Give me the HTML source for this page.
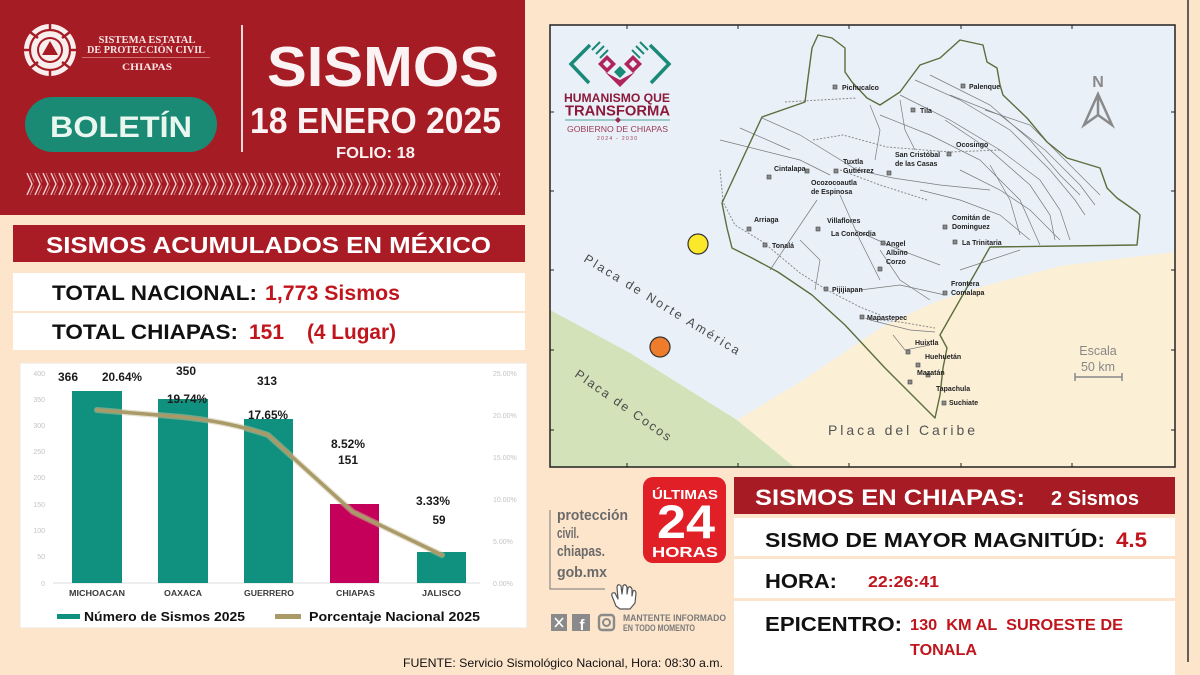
<!DOCTYPE html>
<html><head><meta charset="utf-8"><style>
html,body{margin:0;padding:0;background:#fde5cc;}
svg{display:block;}
text{font-family:"Liberation Sans",Arial,sans-serif;}
.serif{font-family:"Liberation Serif","Times New Roman",serif;}
.city{font-size:7px;font-weight:bold;fill:#222;}
.mk{fill:#8a8a8a;stroke:#444;stroke-width:0.6;}
.fault{fill:none;stroke:#7a7a7a;stroke-width:0.7;}
.road{fill:none;stroke:#8a8a8a;stroke-width:1;stroke-dasharray:2 1.6;}
</style></head><body>
<svg width="1200" height="675" viewBox="0 0 1200 675" xmlns="http://www.w3.org/2000/svg">
<defs>
<pattern id="zz" x="26" y="173" width="8" height="22" patternUnits="userSpaceOnUse">
<path d="M1,0 L6,11 L1,22" fill="none" stroke="#f3d0d0" stroke-width="1.4"/>
<path d="M4,0 L9,11 L4,22" fill="none" stroke="#f3d0d0" stroke-width="0.8" opacity="0.6"/>
</pattern>
<clipPath id="mapclip"><rect x="550" y="25" width="625" height="442"/></clipPath>
</defs>
<rect width="1200" height="675" fill="#fde5cc"/>

<!-- HEADER -->
<rect x="0" y="0" width="525" height="215" fill="#a61c24"/>
<!-- logo -->
<circle cx="50" cy="50" r="26" fill="#f8eeee"/>
<circle cx="50" cy="50" r="20" fill="none" stroke="#a61c24" stroke-width="2.2"/>
<circle cx="50" cy="50" r="13" fill="#a61c24"/>
<circle cx="50" cy="50" r="11" fill="#f8eeee"/>
<polygon points="50,41 58,55 42,55" fill="#a61c24"/>
<path d="M30,32 L38,38 M70,32 L62,38 M30,68 L38,62 M70,68 L62,62 M24,50 L30,50 M76,50 L70,50 M50,24 L50,30 M50,76 L50,70" stroke="#a61c24" stroke-width="2.5"/>
<text class="serif" x="147" y="43" font-size="10" font-weight="bold" fill="#f6e4e4" text-anchor="middle" textLength="97" lengthAdjust="spacingAndGlyphs">SISTEMA ESTATAL</text>
<text class="serif" x="146" y="53" font-size="10" font-weight="bold" fill="#f6e4e4" text-anchor="middle" textLength="118" lengthAdjust="spacingAndGlyphs">DE PROTECCIÓN CIVIL</text>
<line x1="82" y1="57.5" x2="210" y2="57.5" stroke="#e08a8a" stroke-width="0.8"/>
<text class="serif" x="147" y="70" font-size="9" font-weight="bold" fill="#f6e4e4" text-anchor="middle" textLength="50" lengthAdjust="spacingAndGlyphs">CHIAPAS</text>
<rect x="25" y="97" width="192" height="55" rx="27.5" fill="#1b8a74"/>
<text x="121" y="137" font-size="30" font-weight="bold" fill="#eaf7f0" text-anchor="middle" textLength="142" lengthAdjust="spacingAndGlyphs">BOLETÍN</text>
<line x1="242" y1="25" x2="242" y2="152" stroke="#f2dada" stroke-width="2"/>
<text x="267" y="86" font-size="57" font-weight="bold" fill="#fbf3f3" textLength="232" lengthAdjust="spacingAndGlyphs">SISMOS</text>
<text x="250" y="133" font-size="36" font-weight="bold" fill="#fbf3f3" textLength="251" lengthAdjust="spacingAndGlyphs">18 ENERO 2025</text>
<text x="336" y="158" font-size="16" font-weight="bold" fill="#fbf3f3" textLength="79" lengthAdjust="spacingAndGlyphs">FOLIO: 18</text>
<rect x="26" y="173" width="474" height="22" fill="url(#zz)"/>

<!-- SISMOS ACUMULADOS -->
<rect x="13" y="225" width="512" height="37" fill="#a91c26"/>
<text x="46" y="253" font-size="23" font-weight="bold" fill="#fff" textLength="445" lengthAdjust="spacingAndGlyphs">SISMOS ACUMULADOS EN MÉXICO</text>
<rect x="13" y="273" width="512" height="38" fill="#fff"/>
<rect x="13" y="313" width="512" height="37" fill="#fff"/>
<text x="52" y="300" font-size="21" font-weight="bold" fill="#111" textLength="205" lengthAdjust="spacingAndGlyphs">TOTAL NACIONAL:</text>
<text x="265" y="300" font-size="21" font-weight="bold" fill="#c0151d" textLength="135" lengthAdjust="spacingAndGlyphs">1,773 Sismos</text>
<text x="52" y="339" font-size="21" font-weight="bold" fill="#111" textLength="186" lengthAdjust="spacingAndGlyphs">TOTAL CHIAPAS:</text>
<text x="249" y="339" font-size="21" font-weight="bold" fill="#c0151d" textLength="35" lengthAdjust="spacingAndGlyphs">151</text>
<text x="307" y="339" font-size="21" font-weight="bold" fill="#c0151d" textLength="89" lengthAdjust="spacingAndGlyphs">(4 Lugar)</text>

<!-- CHART -->
<rect x="20" y="363" width="507" height="265" fill="#fff" stroke="#f2e6da" stroke-width="1"/>
<g font-size="7" fill="#c4c4c4" text-anchor="end">
<text x="45" y="376">400</text><text x="45" y="402">350</text><text x="45" y="428">300</text><text x="45" y="454">250</text><text x="45" y="480">200</text><text x="45" y="507">150</text><text x="45" y="533">100</text><text x="45" y="559">50</text><text x="45" y="586">0</text>
</g>
<g font-size="7" fill="#c4c4c4">
<text x="493" y="376">25.00%</text><text x="493" y="418">20.00%</text><text x="493" y="460">15.00%</text><text x="493" y="502">10.00%</text><text x="493" y="544">5.00%</text><text x="493" y="586">0.00%</text>
</g>
<line x1="53" y1="583" x2="480" y2="583" stroke="#dcdcdc" stroke-width="1"/>
<rect x="72" y="391" width="50" height="192" fill="#10917f"/>
<rect x="158" y="399" width="50" height="184" fill="#10917f"/>
<rect x="244" y="419" width="49" height="164" fill="#10917f"/>
<rect x="330" y="504" width="49" height="79" fill="#c4005a"/>
<rect x="417" y="552" width="49" height="31" fill="#10917f"/>
<path d="M97,410 L182,417 Q230,422 268,435 L353,512 L442,555" fill="none" stroke="#c9bf9c" stroke-width="6" stroke-linejoin="round" stroke-linecap="round" opacity="0.5"/>
<path d="M97,410 L182,417 Q230,422 268,435 L353,512 L442,555" fill="none" stroke="#a99a68" stroke-width="3.5" stroke-linejoin="round" stroke-linecap="round"/>
<g font-size="11.5" font-weight="bold" fill="#1a1a1a" text-anchor="middle">
<text x="68" y="381" textLength="20" lengthAdjust="spacingAndGlyphs">366</text>
<text x="122" y="381" textLength="40" lengthAdjust="spacingAndGlyphs">20.64%</text>
<text x="186" y="375" textLength="20" lengthAdjust="spacingAndGlyphs">350</text>
<text x="187" y="403" textLength="40" lengthAdjust="spacingAndGlyphs">19.74%</text>
<text x="267" y="385" textLength="20" lengthAdjust="spacingAndGlyphs">313</text>
<text x="268" y="419" textLength="40" lengthAdjust="spacingAndGlyphs">17.65%</text>
<text x="348" y="448" textLength="34" lengthAdjust="spacingAndGlyphs">8.52%</text>
<text x="348" y="464" textLength="20" lengthAdjust="spacingAndGlyphs">151</text>
<text x="433" y="505" textLength="34" lengthAdjust="spacingAndGlyphs">3.33%</text>
<text x="439" y="524" textLength="13" lengthAdjust="spacingAndGlyphs">59</text>
</g>
<g font-size="8" font-weight="bold" fill="#3a3a3a">
<text x="69" y="596" textLength="56" lengthAdjust="spacingAndGlyphs">MICHOACAN</text>
<text x="164" y="596" textLength="38" lengthAdjust="spacingAndGlyphs">OAXACA</text>
<text x="244" y="596" textLength="50" lengthAdjust="spacingAndGlyphs">GUERRERO</text>
<text x="336" y="596" textLength="39" lengthAdjust="spacingAndGlyphs">CHIAPAS</text>
<text x="422" y="596" textLength="39" lengthAdjust="spacingAndGlyphs">JALISCO</text>
</g>
<rect x="57" y="614" width="23" height="5" fill="#10917f"/>
<text x="84" y="621" font-size="12.5" font-weight="bold" fill="#111" textLength="161" lengthAdjust="spacingAndGlyphs">Número de Sismos 2025</text>
<rect x="275" y="614" width="26" height="5" fill="#a99a68"/>
<text x="309" y="621" font-size="12.5" font-weight="bold" fill="#111" textLength="171" lengthAdjust="spacingAndGlyphs">Porcentaje Nacional 2025</text>

<!-- MAP -->
<rect x="550" y="25" width="625" height="442" fill="#e9f0f8"/>
<g clip-path="url(#mapclip)">
<polygon points="550,310 630,353 737,420 798,470 550,470" fill="#d3e2b9"/>
<polygon points="737,420 800,382 885,325 940,300 988,285 1060,266 1175,252 1175,470 798,470" fill="#fbefd6"/>
</g>
<!-- faults & roads -->
<g class="fault">
<path d="M915,80 L960,100 L1010,130 L1050,170 L1075,200 L1085,215"/>
<path d="M930,75 L990,105 L1030,140 L1060,175 L1080,195"/>
<path d="M900,95 L950,120 L1000,150 L1040,180 L1060,210 L1070,240"/>
<path d="M945,120 L990,150 L1030,185 L1050,215 L1055,240"/>
<path d="M880,115 L930,135 L980,160 L1020,200 L1040,245"/>
<path d="M960,170 L1000,190 L1030,210 L1060,240"/>
<path d="M950,95 L1000,115 L1045,150 L1080,185 L1095,205"/>
<path d="M985,110 L1030,125 L1065,160 L1100,195"/>
<path d="M920,190 L960,200 L1000,215 L1030,240"/>
<path d="M990,165 L1010,200 L1020,235"/>
<path d="M762,118 L800,135 L857,170 L893,178 L940,185 L990,190"/>
<path d="M720,140 L800,160 L830,175"/>
<path d="M740,128 L790,150"/>
<path d="M817,200 L790,240 L770,270"/>
<path d="M840,195 L860,240 L880,280"/>
<path d="M855,230 L900,250 L940,265"/>
<path d="M800,240 L820,260 L815,290"/>
<path d="M860,290 L900,285 L945,295"/>
<path d="M870,320 L910,330 L935,332"/>
<path d="M893,335 L905,350 L930,345"/>
<path d="M880,250 L900,280 L930,300"/>
<path d="M900,100 L905,130 L915,150"/>
<path d="M870,105 L880,130 L875,160"/>
<path d="M960,270 L990,260 L1020,250"/>
</g>
<g class="road">
<path d="M785,102 L820,100 L857,98"/>
<path d="M813,140 L843,135 L887,147 L950,152 L1000,150"/>
<path d="M840,170 L880,185 L927,200"/>
<path d="M722,200 L735,225 L763,242 L800,273 L827,290 L860,307 L880,315"/>
<path d="M720,170 L723,200"/>
<path d="M862,318 L900,322 L935,328"/>
</g>
<!-- Chiapas outline -->
<path d="M762,117 L805,102 L808,78 L812,48 L818,35 L832,38 L845,48 L845,72 L852,82 L867,98 L880,105 L900,92 L920,65 L940,58 L960,40 L983,45 L987,62 L997,68 L1000,85 L1003,95 L1027,118 L1047,142 L1067,158 L1100,168 L1107,188 L1117,198 L1137,212 L1140,215 L1137,245 L990,247 L940,335 L947,348 L943,368 L940,395 L935,418 L885,368 L845,325 L812,295 L778,272 L752,258 L732,248 L727,228 L722,203 Z" fill="none" stroke="#5b6e3c" stroke-width="1.4" stroke-linejoin="round"/>
<!-- markers -->
<g class="mk">
<rect x="833" y="85" width="4" height="4"/><rect x="961" y="84" width="4" height="4"/><rect x="911" y="108" width="4" height="4"/>
<rect x="947" y="152" width="4" height="4"/><rect x="887" y="171" width="4" height="4"/><rect x="834" y="169" width="4" height="4"/>
<rect x="767" y="175" width="4" height="4"/><rect x="805" y="169" width="4" height="4"/><rect x="747" y="227" width="4" height="4"/>
<rect x="763" y="243" width="4" height="4"/><rect x="816" y="227" width="4" height="4"/><rect x="881" y="241" width="4" height="4"/>
<rect x="878" y="267" width="4" height="4"/><rect x="943" y="225" width="4" height="4"/><rect x="953" y="240" width="4" height="4"/>
<rect x="824" y="287" width="4" height="4"/><rect x="943" y="291" width="4" height="4"/><rect x="860" y="315" width="4" height="4"/>
<rect x="906" y="350" width="4" height="4"/><rect x="916" y="363" width="4" height="4"/><rect x="908" y="380" width="4" height="4"/>
<rect x="942" y="401" width="4" height="4"/><rect x="926" y="373" width="4" height="4"/>
</g>
<g class="city">
<text x="842" y="90">Pichucalco</text>
<text x="969" y="89">Palenque</text>
<text x="920" y="113">Tila</text>
<text x="956" y="147">Ocosingo</text>
<text x="895" y="157">San Cristóbal</text><text x="895" y="166">de las Casas</text>
<text x="843" y="164">Tuxtla</text><text x="843" y="173">Gutiérrez</text>
<text x="774" y="171">Cintalapa</text>
<text x="811" y="185">Ocozocoautla</text><text x="811" y="194">de Espinosa</text>
<text x="754" y="222">Arriaga</text>
<text x="772" y="248">Tonalá</text>
<text x="827" y="223">Villaflores</text>
<text x="831" y="236">La Concordia</text>
<text x="886" y="246">Angel</text><text x="886" y="255">Albino</text><text x="886" y="264">Corzo</text>
<text x="952" y="220">Comitán de</text><text x="952" y="229">Dominguez</text>
<text x="962" y="245">La Trinitaria</text>
<text x="832" y="292">Pijijiapan</text>
<text x="951" y="286">Frontera</text><text x="951" y="295">Comalapa</text>
<text x="867" y="320">Mapastepec</text>
<text x="915" y="345">Huixtla</text>
<text x="925" y="359">Huehuetán</text>
<text x="917" y="375">Mazatán</text>
<text x="936" y="391">Tapachula</text>
<text x="949" y="405">Suchiate</text>
</g>
<!-- epicenters -->
<circle cx="698" cy="244" r="10" fill="#fbe82b" stroke="#333" stroke-width="1.2"/>
<circle cx="660" cy="347" r="10" fill="#ee7c2b" stroke="#333" stroke-width="1.2"/>
<!-- plate labels -->
<text transform="translate(583,261) rotate(31.5)" font-size="12.5" fill="#4a4a4a" textLength="180" lengthAdjust="spacing">Placa de Norte América</text>
<text transform="translate(574,376) rotate(35)" font-size="12.5" fill="#4a4a4a" textLength="114" lengthAdjust="spacing">Placa de Cocos</text>
<text x="828" y="435" font-size="14" fill="#555" textLength="147" lengthAdjust="spacing">Placa del Caribe</text>
<!-- north arrow -->
<text x="1098" y="87" font-size="16" font-weight="bold" fill="#8a8a8a" text-anchor="middle">N</text>
<path d="M1084,125 L1098,94 L1112,125 L1098,115 Z M1098,94 L1098,115" fill="none" stroke="#8a8a8a" stroke-width="2.5" stroke-linejoin="miter"/>
<!-- scale -->
<text x="1098" y="355" font-size="12.5" fill="#888" text-anchor="middle">Escala</text>
<text x="1098" y="371" font-size="12.5" fill="#888" text-anchor="middle">50 km</text>
<path d="M1075,377 L1122,377 M1075,373 L1075,381 M1122,373 L1122,381" stroke="#888" stroke-width="1.5"/>
<!-- map logo -->
<g fill="none" stroke="#1a8a78" stroke-width="3.5" stroke-linejoin="miter">
<path d="M590,45 L571,64 L589,83"/>
<path d="M650,45 L669,64 L651,83"/>
</g>
<g stroke="#1a8a78" stroke-width="2">
<path d="M592,50 L600,42 M596,54 L604,46 M600,58 L608,50"/>
<path d="M648,50 L640,42 M644,54 L636,46 M640,58 L632,50"/>
</g>
<g fill="#b0245c">
<polygon points="607,55 616,64 607,73 598,64"/>
<polygon points="633,55 642,64 633,73 624,64"/>
<polygon points="605,72 620,87 635,72 620,80"/>
</g>
<polygon points="620,66 626,72 620,78 614,72" fill="#1a8a78"/>
<polygon points="607,60 611,64 607,68 603,64" fill="#e9f0f8"/>
<polygon points="633,60 637,64 633,68 629,64" fill="#e9f0f8"/>
<text x="564" y="102" font-size="12" font-weight="bold" fill="#8b1a3a" textLength="106" lengthAdjust="spacingAndGlyphs">HUMANISMO QUE</text>
<text x="565" y="115.5" font-size="14.5" font-weight="bold" fill="#8b1a3a" textLength="105" lengthAdjust="spacingAndGlyphs">TRANSFORMA</text>
<line x1="565" y1="120" x2="670" y2="120" stroke="#1a8a78" stroke-width="0.8"/>
<polygon points="618,117 621,120 618,123 615,120" fill="#9a2a4a"/>
<text x="567" y="132" font-size="8.5" fill="#9a3a55" textLength="101" lengthAdjust="spacingAndGlyphs">GOBIERNO DE CHIAPAS</text>
<text x="617" y="140" font-size="5" fill="#9a3a55" text-anchor="middle" textLength="40" lengthAdjust="spacing">2024 - 2030</text>
<!-- map frame + ticks -->
<rect x="550" y="25" width="625" height="442" fill="none" stroke="#222" stroke-width="1.5"/>
<path d="M627,25 v4 M738,25 v4 M849,25 v4 M961,25 v4 M1072,25 v4 M627,467 v-4 M738,467 v-4 M849,467 v-4 M961,467 v-4 M1072,467 v-4 M550,112 h4 M550,191 h4 M550,270 h4 M550,350 h4 M550,430 h4 M1175,112 h-4 M1175,191 h-4 M1175,270 h-4 M1175,350 h-4 M1175,430 h-4" stroke="#222" stroke-width="1"/>
<line x1="1188" y1="0" x2="1188" y2="662" stroke="#333" stroke-width="1.5"/>

<!-- 24 HORAS -->
<rect x="643" y="477" width="83" height="86" rx="10" fill="#e01f26"/>
<text x="685" y="499" font-size="13" font-weight="bold" fill="#fff" text-anchor="middle" textLength="66" lengthAdjust="spacingAndGlyphs">ÚLTIMAS</text>
<text x="686" y="538" font-size="47" font-weight="bold" fill="#fff" text-anchor="middle" textLength="58" lengthAdjust="spacingAndGlyphs">24</text>
<text x="685" y="557" font-size="15" font-weight="bold" fill="#fff" text-anchor="middle" textLength="66" lengthAdjust="spacingAndGlyphs">HORAS</text>
<!-- web -->
<g font-size="15" font-weight="bold" fill="#6a6a6a">
<text x="557" y="520" textLength="71" lengthAdjust="spacingAndGlyphs">protección</text>
<text x="557" y="538" textLength="22" lengthAdjust="spacingAndGlyphs">civil.</text>
<text x="557" y="556" textLength="48" lengthAdjust="spacingAndGlyphs">chiapas.</text>
<text x="557" y="577" textLength="50" lengthAdjust="spacingAndGlyphs">gob.mx</text>
</g>
<path d="M550,510 L550,589 L605,589" fill="none" stroke="#777" stroke-width="1"/>
<path d="M616,606 L612,596 Q611,592 615,593 L618,599 L617,587 Q618,583 621,586 L622,594 L623,586 Q625,583 627,587 L627,594 L628,588 Q630,585 632,589 L632,596 L633,591 Q635,589 636,593 L635,603 L630,609 L620,609 Z" fill="#fff" stroke="#555" stroke-width="1.2" stroke-linejoin="round"/>
<!-- social -->
<rect x="551" y="614" width="16" height="17" fill="#8a8a8a"/>
<path d="M555,618 L563,627 M563,618 L555,627" stroke="#fff" stroke-width="1.6"/>
<rect x="572" y="614" width="18" height="17" fill="#8a8a8a"/>
<text x="582" y="630" font-size="15" font-weight="bold" fill="#fff" text-anchor="middle">f</text>
<rect x="599" y="615" width="15" height="15" rx="3" fill="none" stroke="#8a8a8a" stroke-width="2.4"/>
<circle cx="606.5" cy="622.5" r="3.5" fill="none" stroke="#8a8a8a" stroke-width="2"/>
<text x="623" y="621" font-size="9.5" font-weight="bold" fill="#7a7a7a" textLength="103" lengthAdjust="spacingAndGlyphs">MANTENTE INFORMADO</text>
<text x="623" y="631" font-size="9.5" font-weight="bold" fill="#7a7a7a" textLength="72" lengthAdjust="spacingAndGlyphs">EN TODO MOMENTO</text>
<text x="403" y="667" font-size="12" fill="#111" textLength="320" lengthAdjust="spacingAndGlyphs">FUENTE: Servicio Sismológico Nacional, Hora: 08:30 a.m.</text>

<!-- SISMOS EN CHIAPAS -->
<rect x="734" y="477" width="441" height="37" fill="#a71c24"/>
<text x="755" y="505" font-size="22" font-weight="bold" fill="#fff" textLength="270" lengthAdjust="spacingAndGlyphs">SISMOS EN CHIAPAS:</text>
<text x="1051" y="505" font-size="20" font-weight="bold" fill="#fff" textLength="88" lengthAdjust="spacingAndGlyphs">2 Sismos</text>
<rect x="734" y="518" width="441" height="38" fill="#fff"/>
<rect x="734" y="559" width="441" height="39" fill="#fff"/>
<rect x="734" y="601" width="441" height="74" fill="#fff"/>
<text x="765" y="547" font-size="20" font-weight="bold" fill="#111" textLength="340" lengthAdjust="spacingAndGlyphs">SISMO DE MAYOR MAGNITÚD:</text>
<text x="1116" y="547" font-size="21" font-weight="bold" fill="#c0151d" textLength="31" lengthAdjust="spacingAndGlyphs">4.5</text>
<text x="765" y="588" font-size="20" font-weight="bold" fill="#111" textLength="72" lengthAdjust="spacingAndGlyphs">HORA:</text>
<text x="868" y="587" font-size="16" font-weight="bold" fill="#c0151d" textLength="71" lengthAdjust="spacingAndGlyphs">22:26:41</text>
<text x="765" y="631" font-size="20" font-weight="bold" fill="#111" textLength="137" lengthAdjust="spacingAndGlyphs">EPICENTRO:</text>
<text x="910" y="630" font-size="16" font-weight="bold" fill="#c0151d" textLength="213" lengthAdjust="spacingAndGlyphs" xml:space="preserve">130  KM AL  SUROESTE DE</text>
<text x="910" y="655" font-size="16" font-weight="bold" fill="#c0151d" textLength="67" lengthAdjust="spacingAndGlyphs">TONALA</text>
</svg>
</body></html>
